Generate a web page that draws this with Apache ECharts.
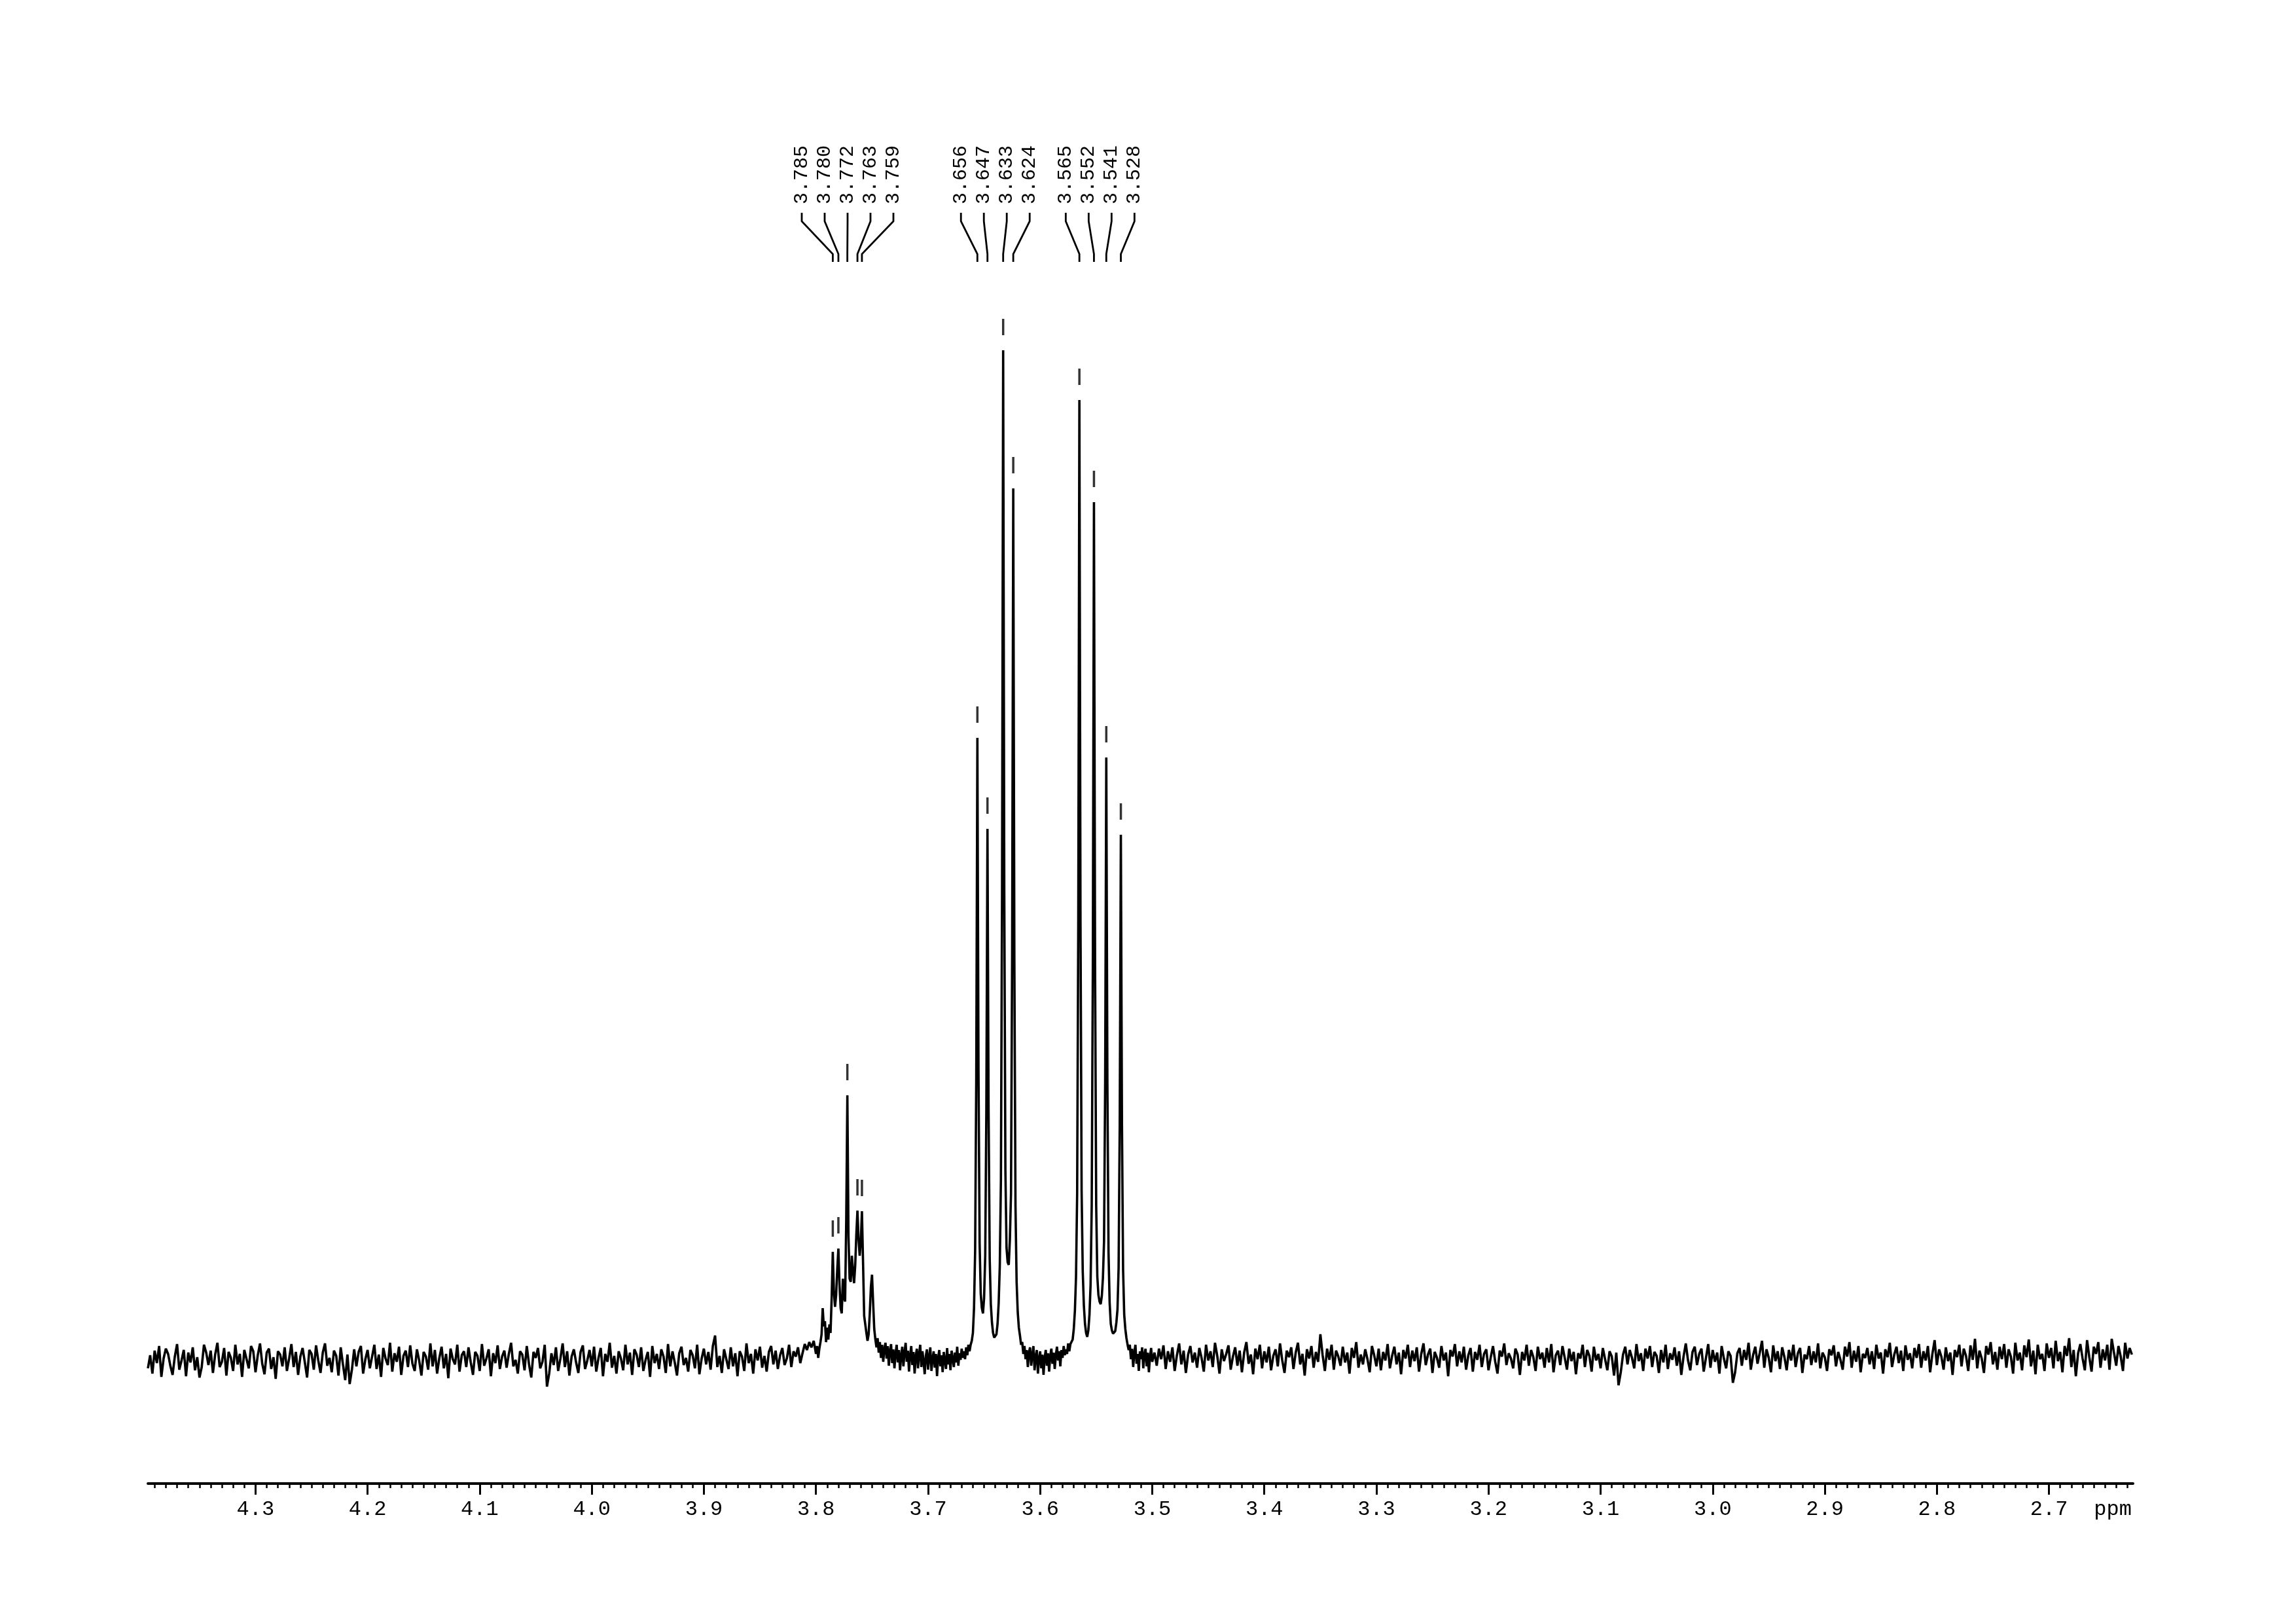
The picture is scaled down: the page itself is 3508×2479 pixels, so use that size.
<!DOCTYPE html>
<html>
<head>
<meta charset="utf-8">
<script src="https://cdn.jsdelivr.net/npm/echarts/dist/echarts.min.js"></script>
<style>
html,body{margin:0;padding:0;background:#fff;}
#chart{width:3508px;height:2479px;}
</style>
</head>
<body>
<div id="chart"></div>
<script>
// ---------------- DATA ----------------
// x axis range (ppm), drawn inverted (high ppm on the left)
const ppmMax = 4.396;
const ppmMin = 2.625;

// tick labels of the ppm axis
const tickLabels = ['4.3','4.2','4.1','4.0','3.9','3.8','3.7','3.6','3.5','3.4','3.3','3.2','3.1','3.0','2.9','2.8','2.7'];
const unitLabel = 'ppm';
const unitLabelPos = 2.643;

// spectrum, segment 1: 4.396 -> 3.802 ppm, step 0.002 (baseline noise)
const baseLeftStart = 4.396, baseLeftStep = 0.002;
const baseLeft = [
-12,8,-20,15,-4,22,-25,3,18,10,-8,-22,6,25,-14,0,16,-24,12,-3,
20,-15,5,-26,-10,24,12,-7,15,-19,9,27,-10,-2,19,-23,13,4,-16,24,
-6,10,-25,16,2,-12,22,14,-18,8,26,-5,-21,12,18,-13,5,-28,14,9,
-9,20,-16,3,25,-10,13,-22,6,19,-3,-26,16,10,-14,23,0,-19,12,26,
-8,4,-18,15,7,-23,20,-6,-30,9,-36,-14,17,-9,13,22,-20,2,16,-12,
6,24,-13,9,-25,19,3,-7,27,-17,11,-2,21,-22,7,15,-10,23,-5,-16,
17,0,-23,13,6,-14,26,-9,16,-20,4,21,-12,10,-27,18,2,-6,24,-17,
8,14,-10,20,-3,-22,13,7,-16,25,-8,3,17,-24,11,-4,23,-13,6,15,
-11,10,27,-9,1,-20,14,9,-15,22,-6,-26,13,4,19,-12,-2,24,-40,-20,
11,-7,20,-16,3,26,-10,14,-23,6,17,-3,-19,13,23,-13,0,16,-9,21,
-17,4,19,-24,10,-2,27,-11,7,-20,14,3,-15,24,-6,12,-22,17,9,-10,
20,-16,1,13,-25,22,-4,10,-13,17,6,-19,25,-9,14,-3,-23,11,21,-7,
4,-17,16,8,-12,24,-21,3,18,-6,13,-14,22,38,-10,7,-19,17,2,-13,
20,-9,11,-24,14,6,-16,26,-4,10,-20,17,0,21,-11,7,-17,13,22,-6,
15,-13,8,19,-7,3,24,-10,14,6,20,-4,11,25,16,28,20,30
];

// spectrum, segment 2: 3.800 -> 3.500 ppm, step 0.001 (multiplets)
const multStart = 3.800, multStep = 0.001;
const multiplets = [
10,22,4,18,28,40,80,52,60,28,
50,32,55,42,95,166,105,82,100,140,
171,115,80,72,125,95,90,215,405,190,
125,120,160,138,118,145,192,229,185,160,
182,228,150,68,55,42,30,40,72,112,
131,88,48,32,20,34,12,28,4,24,
-2,18,27,3,22,-8,14,25,-4,17,
-12,11,24,-3,16,-15,7,21,-9,12,
27,-2,15,-17,8,22,-7,13,-20,6,
18,-12,9,24,-10,14,-1,-21,7,17,
-14,5,20,-16,2,14,-11,10,-24,4,
16,-9,8,-18,13,0,-13,19,-6,10,
-15,15,3,-10,12,-3,21,-8,11,1,
18,4,14,2,20,8,24,14,24,30,
42,80,168,432,951,440,178,102,80,72,
96,160,384,812,380,155,86,58,42,35,
33,40,56,88,145,276,708,1543,712,290,
172,150,146,185,255,618,1332,610,236,120,
74,50,38,24,28,10,22,2,16,-10,
12,20,-8,8,22,-15,5,16,-20,3,
14,-12,9,-22,4,16,-8,11,-17,7,
18,-5,12,-13,8,21,0,14,-9,16,
4,22,8,17,10,26,14,25,27,32,
48,76,128,254,664,1467,668,258,136,84,
56,42,36,46,70,116,236,600,1311,602,
236,128,100,90,86,98,126,182,425,921,
420,165,88,56,46,41,40,45,58,78,
142,364,803,360,138,70,48,34,24,16,
24,2,18,-10,12,24,-5,10,-16,14,
2,20,-12,9,18,-9,12,-18,6,19,
-2
];

// spectrum, segment 3: 3.498 -> 2.626 ppm, step 0.002 (baseline noise)
const baseRightStart = 3.498, baseRightStep = 0.002;
const baseRight = [
12,-8,18,2,23,-13,14,-2,20,-16,8,26,-6,15,-19,9,22,-3,12,-11,
19,4,-17,24,0,14,-10,27,7,-20,17,-1,10,23,-14,6,20,-8,15,-18,
12,28,-5,9,-21,18,2,24,-12,14,-3,21,-15,7,17,-9,26,0,-19,15,
5,20,-13,12,27,-6,10,-23,17,3,22,-11,13,-2,40,8,-16,18,1,24,
-14,15,6,-8,21,-3,12,-20,19,4,28,-11,9,-6,17,2,-18,22,8,-9,
18,-15,13,0,25,-12,7,21,-6,12,-21,16,3,24,-10,15,-1,20,-17,10,
26,-7,9,18,-19,13,4,-11,22,0,12,-24,16,6,25,-9,14,-3,21,-14,
8,19,-17,13,1,24,-10,10,17,-15,5,22,-2,-20,15,6,26,-7,11,3,
-12,18,9,-22,13,0,24,-8,16,5,-16,21,2,12,-11,19,-3,25,-18,8,
15,-7,22,4,-14,18,-1,13,-21,11,3,24,-10,16,7,-17,21,0,10,-12,
19,2,-15,14,6,-23,12,-38,-18,9,21,-6,16,4,-12,25,-1,11,-16,18,
3,22,-10,13,7,-19,16,-3,24,-13,11,1,20,-8,14,-22,6,26,0,-15,
13,21,-7,10,18,-17,4,25,-11,16,-2,12,-20,22,3,-12,14,7,-34,-18,
11,19,-8,16,1,27,-14,8,21,-5,12,30,-11,17,4,-18,23,-1,14,-13,
20,5,-15,16,0,24,-10,11,19,-19,9,2,22,-7,14,-3,26,-12,12,5,
-16,17,8,23,-9,13,1,-14,21,6,28,-11,15,-2,22,-18,10,4,19,-6,
14,-13,24,3,12,-20,17,5,27,-10,9,21,-4,15,-16,23,1,11,-12,19,
4,25,-11,14,0,22,-18,10,31,-7,17,6,-14,20,-1,12,-22,16,5,24,
-9,18,7,-16,23,1,33,-12,15,3,-19,22,9,28,-6,13,-14,21,2,25,
-11,17,6,-20,27,0,12,-15,23,5,32,-9,15,-21,24,2,10,-16,26,4,
19,-12,30,-1,13,-18,22,7,34,-10,16,-24,11,25,3,-15,31,5,-17,21,
10,28,-11,17,0,24,-14,33,12,-8,22,6,-16,27,3,19,9
];

// picked peaks (ppm) and their label groups
const peakPPM   = [3.785,3.780,3.772,3.763,3.759, 3.656,3.647,3.633,3.624, 3.565,3.552,3.541,3.528];
const peakGroup = [0,0,0,0,0, 1,1,1,1, 2,2,2,2];

// ---------------- BUILD ----------------
function buildSeg(start, step, vals){
  return vals.map((v,i)=>[+(start - step*i).toFixed(3), v]);
}
const spectrum = []
  .concat(buildSeg(baseLeftStart, baseLeftStep, baseLeft))
  .concat(buildSeg(multStart, multStep, multiplets))
  .concat(buildSeg(baseRightStart, baseRightStep, baseRight));

// marker height = spectrum value at the peak position
const peakData = peakPPM.map(p => {
  const idx = Math.round((multStart - p) / multStep);
  return [p, multiplets[idx]];
});

const tickValues = tickLabels.map(Number);
const minorTickValues = [];
for (let k = Math.ceil(ppmMin*100); k <= Math.floor(ppmMax*100); k++) minorTickValues.push(k/100);

const LABEL_SPACING = 35;
const LABEL_FONT = '30px "Liberation Mono"';

function renderLabel(params, api){
  const i = params.dataIndex;
  const g = peakGroup[i];
  const members = [];
  peakGroup.forEach((gg,k)=>{ if(gg===g) members.push(k); });
  const pxs = members.map(k => api.coord([peakPPM[k], 0])[0]);
  const center = pxs.reduce((a,b)=>a+b,0)/pxs.length;
  const pos = members.indexOf(i);
  const lx = center + (pos - (members.length-1)/2) * LABEL_SPACING;
  const px = api.coord([peakPPM[i], 0])[0];
  return {
    type:'group',
    children:[
      {type:'polyline', shape:{points:[[lx,325],[lx,338],[px,388],[px,400]]},
       style:{stroke:'#000', lineWidth:2.8, fill:null}},
      {type:'text', x:lx, y:312, rotation:Math.PI/2,
       style:{text:peakPPM[i].toFixed(3), font:LABEL_FONT, fill:'#000', align:'left', verticalAlign:'middle'}}
    ]
  };
}

const chart = echarts.init(document.getElementById('chart'), null, {renderer:'canvas'});
chart.setOption({
  animation:false,
  backgroundColor:'#fff',
  grid:{left:226, right:249, top:0, bottom:213, containLabel:false},
  xAxis:[{
    type:'value', min:ppmMin, max:ppmMax, inverse:true, position:'bottom',
    axisLine:{show:true, onZero:false, lineStyle:{color:'#000', width:4}},
    axisTick:{show:true, customValues:tickValues, length:17, lineStyle:{color:'#000', width:3}},
    axisLabel:{show:true, customValues:tickValues.concat([unitLabelPos]), margin:24,
      color:'#000', fontFamily:'Liberation Mono', fontSize:32,
      formatter:function(v){
        if (Math.abs(v-unitLabelPos)<1e-6) return unitLabel;
        const k = tickValues.findIndex(t=>Math.abs(t-v)<1e-6);
        return k>=0 ? tickLabels[k] : '';
      }},
    splitLine:{show:false}
  },{
    type:'value', min:ppmMin, max:ppmMax, inverse:true, position:'bottom',
    axisLine:{show:false, onZero:false},
    axisTick:{show:true, customValues:minorTickValues, length:7, lineStyle:{color:'#000', width:2.5}},
    axisLabel:{show:false},
    splitLine:{show:false}
  }],
  yAxis:{type:'value', min:-188, max:2078, show:false, splitLine:{show:false}},
  series:[{
    type:'line', xAxisIndex:0, data:spectrum, showSymbol:false, symbol:'none',
    sampling:null, lineStyle:{color:'#000', width:3.6}, silent:true, z:2
  },{
    type:'scatter', xAxisIndex:0, data:peakData, symbol:'rect', symbolSize:[3.5,25],
    symbolOffset:[0,-35.5], itemStyle:{color:'#000'}, silent:true, z:3
  },{
    type:'custom', xAxisIndex:0, data:peakPPM.map((p,i)=>[p,0]), renderItem:renderLabel, silent:true, z:4
  }]
});
</script>
</body>
</html>
